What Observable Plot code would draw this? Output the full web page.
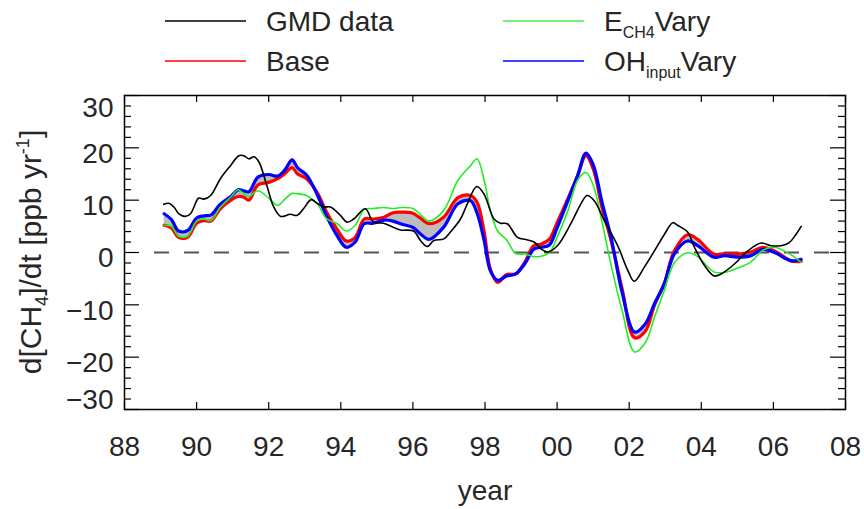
<!DOCTYPE html>
<html><head><meta charset="utf-8">
<script src="https://cdn.jsdelivr.net/npm/d3@7"></script>
<script src="https://cdn.jsdelivr.net/npm/@observablehq/plot@0.6"></script>
<style>
body{margin:0;background:#fff;font-family:"Liberation Sans",Arial,sans-serif}
#chart svg{display:block}
</style>
</head><body><div id="chart"></div><script>
// ---- data ----
const modelYears = [1989.1,1989.3,1989.5,1989.75,1990.0,1990.2,1990.4,1990.65,1990.95,1991.15,1991.3,1991.45,1991.7,1992.0,1992.25,1992.45,1992.65,1992.8,1993.05,1993.35,1993.6,1993.9,1994.15,1994.4,1994.65,1994.9,1995.2,1995.45,1995.7,1996.0,1996.2,1996.45,1996.85,1997.25,1997.6,1997.78,1997.97,1998.15,1998.35,1998.6,1998.85,1999.1,1999.35,1999.55,1999.78,2000.0,2000.3,2000.57,2000.8,2001.0,2001.25,2001.5,2001.8,2002.15,2002.45,2002.7,2002.97,2003.25,2003.62,2003.9,2004.35,2004.65,2005.0,2005.38,2005.7,2006.03,2006.5,2006.77];
const baseRun = [5.2,4.7,2.9,2.9,5.6,6.1,6.0,8.3,10.0,10.7,10.6,10.0,12.9,13.4,14.1,15.1,16.2,15.0,14.1,11.4,7.8,4.4,2.2,2.9,6.4,6.4,6.75,7.6,7.7,7.5,6.6,5.5,6.75,10.5,10.9,9.6,4.2,-3.2,-5.7,-4.2,-4.1,-1.9,1.3,1.6,2.5,5.7,10.3,14.7,18.5,16.0,8.5,2.2,-6.8,-16.3,-15.0,-10.1,-6.0,0.3,3.4,2.5,-0.3,-0.2,-0.3,0.1,1.0,0.3,-1.6,-1.7];
const ohInputVary = [7.4,6.3,4.1,4.2,6.6,7.0,7.2,9.2,10.7,12.0,11.8,11.6,14.4,14.9,14.6,15.8,17.7,16.2,14.8,11.0,7.0,3.2,1.0,2.0,5.5,5.6,6.2,6.0,5.4,4.8,3.6,2.5,4.8,9.3,9.9,7.5,2.5,-3.5,-5.3,-4.5,-4.1,-2.2,0.6,1.0,1.4,4.7,9.9,14.7,19.0,16.8,9.5,2.8,-7.5,-15.2,-13.6,-9.8,-6.0,-0.3,2.2,1.3,-0.9,-0.6,-0.9,-0.6,0.6,0.0,-1.6,-1.3];
const ech4Vary = [5.2,5.0,3.1,3.1,6.0,6.4,6.1,8.6,10.6,12.0,11.3,10.7,11.8,10.4,9.0,10.2,11.3,11.2,10.9,9.3,6.5,5.5,4.1,5.2,8.2,8.4,8.6,8.4,8.6,8.4,7.3,6.0,8.0,13.8,16.6,17.9,14.0,8.0,4.1,2.4,-0.2,-0.3,-0.8,-0.7,-0.1,2.9,8.0,13.8,15.3,12.9,5.7,-2.5,-11.0,-19.0,-17.2,-12.4,-7.3,-2.0,-0.05,-0.8,-3.7,-3.8,-3.0,-1.8,0.4,1.0,-0.5,-1.9];
const gmdYears = [1989.09,1989.23,1989.37,1989.51,1989.69,1989.83,1990.06,1990.2,1990.39,1990.66,1990.94,1991.17,1991.31,1991.45,1991.59,1991.73,1991.96,1992.14,1992.33,1992.6,1992.79,1992.97,1993.18,1993.34,1993.53,1993.71,1993.99,1994.17,1994.36,1994.68,1994.91,1995.19,1995.46,1995.65,1996.02,1996.21,1996.4,1996.58,1996.86,1997.04,1997.32,1997.51,1997.77,1997.97,1998.25,1998.43,1998.62,1998.9,1999.18,1999.36,1999.55,1999.73,2000.01,2000.38,2000.66,2000.83,2001.03,2001.31,2001.68,2001.96,2002.14,2002.42,2002.7,2002.97,2003.21,2003.34,2003.62,2003.81,2004.09,2004.36,2004.55,2004.92,2005.29,2005.66,2005.94,2006.21,2006.44,2006.63,2006.77];
const gmdData = [9.2,9.4,8.7,7.4,6.9,7.4,10.4,10.2,10.9,14.1,16.6,18.5,18.5,17.9,18.3,17.3,12.5,8.7,6.9,7.3,7.1,8.4,10.1,9.4,8.7,8.7,7.1,5.8,6.4,8.35,5.8,5.6,4.8,4.3,4.1,2.3,1.15,2.3,2.6,3.9,6.4,9.3,12.6,11.2,6.4,5.6,5.5,2.9,2.4,2.0,0.7,0.1,1.3,5.5,9.3,10.9,9.9,6.1,1.3,-3.4,-5.5,-2.8,0.3,3.4,5.7,5.2,3.9,1.0,-2.5,-4.5,-4.1,-2.2,0.3,1.8,1.3,1.3,1.9,3.5,5.0];
const xTicks = [1988,1990,1992,1994,1996,1998,2000,2002,2004,2006,2008];
const xTickLabels = ["88","90","92","94","96","98","00","02","04","06","08"];
const yMajor = [-30,-20,-10,0,10,20,30];
const yMinor = [-28,-26,-24,-22,-18,-16,-14,-12,-8,-6,-4,-2,2,4,6,8,12,14,16,18,22,24,26,28];
const legendItems = [
  {name:"GMD data", color:"#000000"},
  {name:"Base", color:"#ff0000"},
  {name:"ECH4Vary", color:"#44ee44"},
  {name:"OHinputVary", color:"#0000ff"}
];

// ---- layout ----
const W = 864, H = 424, mT = 10, mR = 19, mB = 100, mL = 124;
const fw = W - mL - mR, fh = H - mT - mB;
const FONT = "Liberation Sans, Arial, sans-serif";
const txt = "#262626";

// ---- legend (HTML side, above the plot) ----
const leg = d3.select("#chart").append("svg").attr("width", W).attr("height", 85)
  .style("font-family", FONT);
const legPos = [[165, 21], [165, 61], [503, 21], [503, 61]];
legendItems.forEach((it, i) => {
  const [lx, ly] = legPos[i];
  leg.append("line").attr("x1", lx).attr("x2", lx + 81).attr("y1", ly).attr("y2", ly)
    .attr("stroke", it.color).attr("stroke-width", 1.6);
  const t = leg.append("text").attr("x", lx + 101).attr("y", ly + 10)
    .attr("font-size", 28).attr("fill", txt);
  if (it.name === "ECH4Vary") {
    t.append("tspan").text("E");
    t.append("tspan").attr("font-size", 16).attr("dy", 7).text("CH4");
    t.append("tspan").attr("dy", -7).text("Vary");
  } else if (it.name === "OHinputVary") {
    t.append("tspan").text("OH");
    t.append("tspan").attr("font-size", 16).attr("dy", 7).text("input");
    t.append("tspan").attr("dy", -7).text("Vary");
  } else t.text(it.name);
});

// ---- plot ----
const model = modelYears.map((year, i) => ({year, base: baseRun[i], oh: ohInputVary[i], ech4: ech4Vary[i]}));
const gmd = gmdYears.map((year, i) => ({year, v: gmdData[i]}));
const curve = "catmull-rom";

const plot = Plot.plot({
  width: W, height: H,
  marginTop: mT, marginRight: mR, marginBottom: mB, marginLeft: mL,
  style: {fontFamily: FONT, background: "white"},
  x: {domain: [1988, 2008]},
  y: {domain: [-30, 30]},
  marks: [
    Plot.areaY(model, {x: "year", y1: "base", y2: "oh", fill: "#bdbdbd", curve}),
    Plot.ruleY([0], {stroke: "#555", strokeWidth: 2, strokeDasharray: "15,15", insetLeft: 30}),
    Plot.line(model, {x: "year", y: "base", stroke: "#ff0000", strokeWidth: 3.2, curve}),
    Plot.line(model, {x: "year", y: "oh", stroke: "#0000ff", strokeWidth: 3.2, curve}),
    Plot.line(model, {x: "year", y: "ech4", stroke: "#22ee22", strokeWidth: 1.6, curve}),
    Plot.line(gmd, {x: "year", y: "v", stroke: "#000", strokeWidth: 1.6, curve}),
    // inward ticks
    Plot.tickY(yMajor, {insetRight: fw - 15, stroke: "#000", strokeWidth: 1.2}),
    Plot.tickY(yMajor, {insetLeft: fw - 15, stroke: "#000", strokeWidth: 1.2}),
    Plot.tickY(yMinor, {insetRight: fw - 7, stroke: "#000", strokeWidth: 1.2}),
    Plot.tickY(yMinor, {insetLeft: fw - 7, stroke: "#000", strokeWidth: 1.2}),
    Plot.tickX(xTicks, {insetTop: fh - 7, stroke: "#000", strokeWidth: 1.2}),
    Plot.tickX(xTicks, {insetBottom: fh - 7, stroke: "#000", strokeWidth: 1.2}),
    Plot.frame({stroke: "#000", strokeWidth: 1.5}),
    // tick labels
    Plot.axisX(xTicks, {tickSize: 0, tickPadding: 27, fontSize: 28, fill: txt,
      tickFormat: d => xTickLabels[xTicks.indexOf(d)], label: null}),
    Plot.axisY(yMajor.filter(d => Math.abs(d) < 30), {tickSize: 0, tickPadding: 11, fontSize: 28, fill: txt, dy: 6, label: null}),
    Plot.axisY([30], {tickSize: 0, tickPadding: 11, fontSize: 28, fill: txt, dy: 13, label: null}),
    Plot.axisY([-30], {tickSize: 0, tickPadding: 11, fontSize: 28, fill: txt, dy: -9, label: null}),
    Plot.text(["year"], {frameAnchor: "bottom", dy: 90, fontSize: 28, fill: txt})
  ]
});
document.getElementById("chart").appendChild(plot);

// y-axis title with sub/superscript
const yt = d3.select(plot).append("text")
  .attr("transform", `translate(41, ${mT + fh / 2}) rotate(-90)`)
  .attr("text-anchor", "middle").attr("font-size", 30).attr("fill", txt)
  .style("font-family", FONT);
yt.append("tspan").text("d[CH");
yt.append("tspan").attr("font-size", 18).attr("dy", 7).text("4");
yt.append("tspan").attr("dy", -7).text("]/dt [ppb yr");
yt.append("tspan").attr("font-size", 18).attr("dy", -12).text("-1");
yt.append("tspan").attr("dy", 12).text("]");
</script></body></html>
